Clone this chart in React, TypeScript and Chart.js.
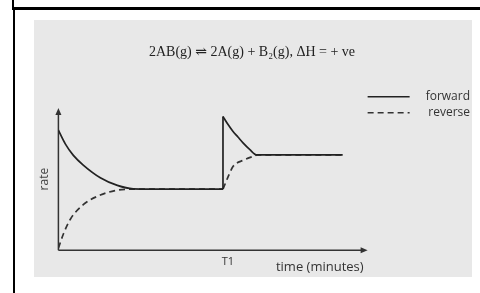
import { useEffect, useRef } from 'react';
import { Chart, registerables } from 'chart.js';

Chart.register(...registerables);

// ---- data (x in time units, y in rate units) ----
const T1 = 5.5;
const forwardDecayX = [0, 0.23, 0.5, 0.83, 1.4, 1.97, 2.5, 3.07, 5.5];
const forwardDecayY = [8.44, 7.48, 6.67, 5.99, 5.1, 4.56, 4.32, 4.3, 4.3];
const forwardJumpX = [5.5, 5.5];
const forwardJumpY = [4.3, 9.41];
const forwardRecoverX = [5.5, 5.67, 5.83, 6.0, 6.17, 6.4, 6.63, 9.5];
const forwardRecoverY = [9.41, 8.84, 8.37, 7.96, 7.55, 7.07, 6.7, 6.7];
const reverseRiseX = [0, 0.17, 0.4, 0.83, 1.4, 1.97, 2.5, 5.5];
const reverseRiseY = [0.14, 1.16, 2.18, 3.2, 3.88, 4.22, 4.3, 4.3];
const reverseRecoverX = [5.5, 5.68, 5.84, 6.18, 6.57, 6.63, 9.5];
const reverseRecoverY = [4.3, 5.21, 5.9, 6.33, 6.65, 6.7, 6.7];
const xTickValues = [T1];
const xTickLabels = ['T1'];
const seriesLabels = ['forward', 'reverse'];
const titleText = '2AB(g) \u21CC 2A(g) + B\u2082(g), \u0394H = + ve';

const pts = (xs: number[], ys: number[]) => xs.map((x, i) => ({ x, y: ys[i] }));

const SANS = "'Open Sans', 'DejaVu Sans', sans-serif";
const INK = '#222';

const axisArrows = {
  id: 'axisArrows',
  beforeDatasetsDraw(chart: any) {
    const { ctx } = chart;
    const xs = chart.scales.x;
    const ys = chart.scales.y;
    const x0 = xs.getPixelForValue(0);
    const y0 = ys.getPixelForValue(0);
    const yTop = ys.getPixelForValue(ys.max);
    const xEnd = xs.getPixelForValue(xs.max) + 4;
    ctx.save();
    ctx.strokeStyle = '#333';
    ctx.fillStyle = '#333';
    ctx.lineWidth = 1.5;
    ctx.beginPath();
    ctx.moveTo(x0, y0);
    ctx.lineTo(x0, yTop + 5);
    ctx.moveTo(x0, y0);
    ctx.lineTo(xEnd - 5, y0);
    ctx.stroke();
    ctx.beginPath();
    ctx.moveTo(x0, yTop);
    ctx.lineTo(x0 - 3, yTop + 7);
    ctx.lineTo(x0 + 3, yTop + 7);
    ctx.closePath();
    ctx.fill();
    ctx.beginPath();
    ctx.moveTo(xEnd, y0);
    ctx.lineTo(xEnd - 7, y0 - 3);
    ctx.lineTo(xEnd - 7, y0 + 3);
    ctx.closePath();
    ctx.fill();
    ctx.restore();
  },
};

function RateChart() {
  const ref = useRef<HTMLCanvasElement | null>(null);
  useEffect(() => {
    if (!ref.current) return;
    const common = {
      pointRadius: 0,
      pointHoverRadius: 0,
      pointStyle: 'line',
      fill: false,
      borderWidth: 1.7,
    };
    const chart = new Chart(ref.current, {
      type: 'line',
      data: {
        datasets: [
          { ...common, label: seriesLabels[0], data: pts(forwardDecayX, forwardDecayY), borderColor: INK, cubicInterpolationMode: 'monotone' },
          { ...common, label: '', data: pts(forwardJumpX, forwardJumpY), borderColor: INK, tension: 0 },
          { ...common, label: '', data: pts(forwardRecoverX, forwardRecoverY), borderColor: INK, cubicInterpolationMode: 'monotone' },
          { ...common, label: seriesLabels[1], data: pts(reverseRiseX, reverseRiseY), borderColor: '#333', borderDash: [6, 4], cubicInterpolationMode: 'monotone' },
          { ...common, label: '', data: pts(reverseRecoverX, reverseRecoverY), borderColor: '#333', borderDash: [6, 4], cubicInterpolationMode: 'monotone' },
        ] as any,
      },
      options: {
        animation: false,
        responsive: false,
        events: [],
        layout: { padding: { left: 0, right: 2, top: 0, bottom: 2 } },
        plugins: {
          tooltip: { enabled: false },
          title: {
            display: true,
            text: titleText,
            color: INK,
            font: { family: "'Liberation Serif', 'DejaVu Serif', serif", size: 14, weight: 'normal' },
            padding: { top: 24, bottom: 26 },
          },
          legend: {
            display: true,
            position: 'right',
            align: 'start',
            fullSize: false,
            labels: {
              usePointStyle: true,
              pointStyleWidth: 42,
              padding: 4,
              textAlign: 'right',
              color: '#333',
              font: { family: SANS, size: 12 },
              generateLabels: (c: any) =>
                (Chart.defaults.plugins.legend.labels.generateLabels as any)(c)
                  .filter((item: any) => item.text !== '')
                  .map((item: any) => {
                    const ds = c.data.datasets[item.datasetIndex];
                    return {
                      ...item,
                      pointStyle: 'line',
                      lineDash: ds.borderDash || [],
                      lineWidth: 1.6,
                      strokeStyle: ds.borderColor,
                    };
                  }),
            },
          },
        },
        scales: {
          x: {
            type: 'linear',
            min: 0,
            max: 10.2,
            grid: { display: false, drawTicks: false },
            border: { display: false },
            afterBuildTicks: (s: any) => {
              s.ticks = xTickValues.map((v) => ({ value: v }));
            },
            ticks: {
              callback: (_v: any, i: number) => xTickLabels[i] ?? '',
              font: { family: SANS, size: 11 },
              color: '#333',
              padding: 5,
              labelOffset: 5,
              autoSkip: false,
              maxRotation: 0,
            },
            title: {
              display: true,
              text: 'time (minutes)',
              align: 'end',
              color: '#333',
              font: { family: SANS, size: 13 },
              padding: { top: -14, bottom: 0 },
            },
          },
          y: {
            type: 'linear',
            min: 0,
            max: 10,
            position: 'left',
            stack: 'rate',
            stackWeight: 147,
            weight: 1,
            grid: { display: false, drawTicks: false },
            border: { display: false },
            ticks: { display: false },
            title: {
              display: true,
              text: 'rate',
              color: '#444',
              font: { family: SANS, size: 12 },
              padding: { top: 3, bottom: 7 },
            },
          },
          yPad: {
            type: 'linear',
            position: 'left',
            stack: 'rate',
            stackWeight: 22,
            weight: 2,
            display: false,
          },
        },
      } as any,
      plugins: [axisArrows],
    });
    return () => chart.destroy();
  }, []);
  return <canvas ref={ref} width={438} height={257} style={{ display: 'block' }} />;
}

export default function App() {
  return (
    <div style={{ position: 'fixed', left: 0, top: 0, width: 480, height: 293, background: '#fff', overflow: 'hidden' }}>
      <div style={{ position: 'absolute', left: 12, top: 0, width: 2, height: 9, background: '#000' }} />
      <div style={{ position: 'absolute', left: 12, top: 7, width: 468, height: 3, background: '#000' }} />
      <div style={{ position: 'absolute', left: 13, top: 9, width: 2, height: 284, background: '#000' }} />
      <div style={{ position: 'absolute', left: 34, top: 20, width: 438, height: 257, background: '#e8e8e8' }}>
        <RateChart />
      </div>
    </div>
  );
}
